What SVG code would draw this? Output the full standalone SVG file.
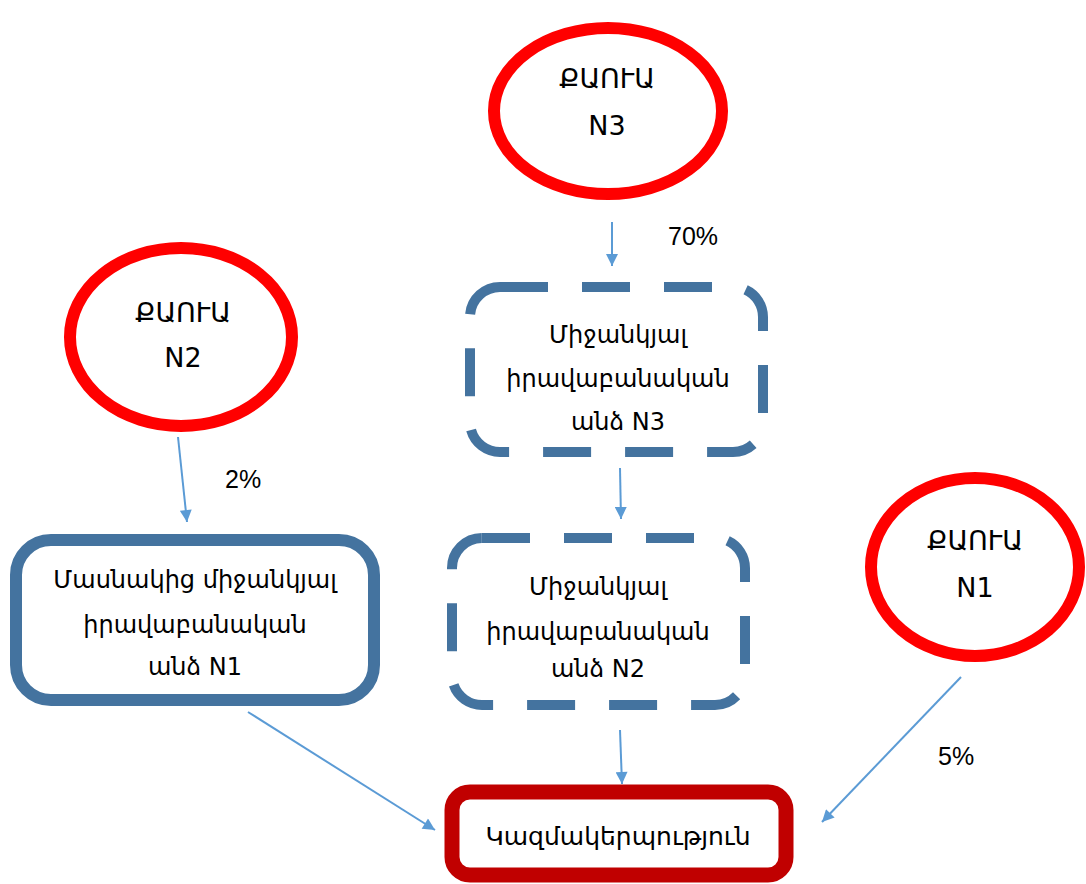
<svg xmlns="http://www.w3.org/2000/svg" width="1086" height="884" viewBox="0 0 1086 884">
<defs>
<marker id="ah" viewBox="0 0 10 10" refX="10" refY="5" markerWidth="6.5" markerHeight="6" markerUnits="strokeWidth" orient="auto">
<path d="M0,0 L10,5 L0,10 z" fill="#5B9BD5"/>
</marker>
</defs>
<style>
.ell{fill:#fff;stroke:#FF0000;stroke-width:12}
.dash{fill:#fff;stroke:#44739F;stroke-width:10;stroke-dasharray:48 34}
.solid{fill:#fff;stroke:#44739F;stroke-width:12}
.org{fill:#fff;stroke:#C00000;stroke-width:15}
.t{font-family:"DejaVu Sans","Noto Sans",sans-serif;font-size:24px;fill:#000;text-anchor:middle}
.q{font-size:27px}
.lbl{font-family:"Liberation Sans",Arial,sans-serif;font-size:25px;fill:#000}
.c{stroke:#5B9BD5;stroke-width:2;fill:none;marker-end:url(#ah)}
</style>
<rect width="1086" height="884" fill="#fff"/>
<g id="connectors">
<line class="c" x1="612" y1="222" x2="612" y2="266"/>
<line class="c" x1="620" y1="468" x2="621" y2="519"/>
<line class="c" x1="620" y1="730" x2="622" y2="784"/>
<line class="c" x1="178" y1="437" x2="187" y2="522"/>
<line class="c" x1="248" y1="712" x2="435" y2="830"/>
<line class="c" x1="961" y1="677" x2="822" y2="822"/>
</g>
<g id="label-70"><text class="lbl" x="668" y="245">70%</text></g>
<g id="label-2"><text class="lbl" x="225" y="488">2%</text></g>
<g id="label-5"><text class="lbl" x="938" y="765">5%</text></g>
<g id="quia-n3">
<ellipse class="ell" cx="608" cy="111" rx="114" ry="83"/>
<text class="t q" x="607" y="88">ՔԱՈՒԱ</text>
<text class="t q" x="607" y="135">N3</text>
</g>
<g id="quia-n2">
<ellipse class="ell" cx="181" cy="337" rx="111" ry="89"/>
<text class="t q" x="183" y="322">ՔԱՈՒԱ</text>
<text class="t q" x="183" y="367">N2</text>
</g>
<g id="quia-n1">
<ellipse class="ell" cx="975" cy="567" rx="104" ry="89"/>
<text class="t q" x="975" y="550">ՔԱՈՒԱ</text>
<text class="t q" x="975" y="597">N1</text>
</g>
<g id="entity-n3">
<rect class="dash" x="470" y="287" width="293" height="165" rx="30"/>
<text class="t" x="618" y="343">Միջանկյալ</text>
<text class="t" x="618" y="387">իրավաբանական</text>
<text class="t" x="618" y="430">անձ N3</text>
</g>
<g id="entity-n2">
<rect class="dash" x="452" y="538" width="293" height="167" rx="30"/>
<text class="t" x="598" y="595">Միջանկյալ</text>
<text class="t" x="598" y="640">իրավաբանական</text>
<text class="t" x="598" y="677">անձ N2</text>
</g>
<g id="entity-n1">
<rect class="solid" x="16" y="540" width="358" height="160" rx="35"/>
<text class="t" x="195" y="588">Մասնակից միջանկյալ</text>
<text class="t" x="195" y="633">իրավաբանական</text>
<text class="t" x="195" y="675">անձ N1</text>
</g>
<g id="organization">
<rect class="org" x="452" y="792" width="334" height="83" rx="18"/>
<text class="t" x="618" y="845" style="font-size:25px">Կազմակերպություն</text>
</g>
</svg>
